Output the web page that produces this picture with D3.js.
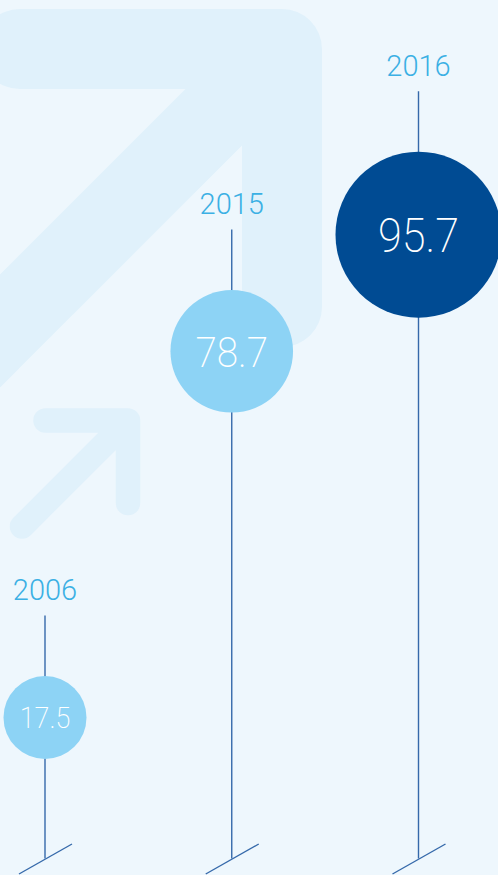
<!DOCTYPE html>
<html>
<head>
<meta charset="utf-8">
<script src="https://cdn.jsdelivr.net/npm/d3@7/dist/d3.min.js"></script>
<style>
  html, body { margin: 0; padding: 0; background: #eef7fd; }
  svg { display: block; }
</style>
</head>
<body>
<script>
// ---- data ----
const years = ["2006", "2015", "2016"];
const values = [17.5, 78.7, 95.7];
const valueLabels = ["17.5", "78.7", "95.7"];
const highlight = [false, false, true];

const W = 498, H = 875;
const svg = d3.select("body").append("svg").attr("width", W).attr("height", H);

svg.append("rect").attr("width", W).attr("height", H).attr("fill", "#eef7fd");

// decorative background arrows
const deco = svg.append("g").attr("fill", "none").attr("stroke", "#e0f1fb")
  .attr("stroke-linecap", "round").attr("stroke-linejoin", "round");
deco.append("path").attr("stroke-width", 80)
  .attr("d", "M20,49 L282,49 L282,307 M282,49 L-200,531");
deco.append("path").attr("stroke-width", 24.5)
  .attr("d", "M45.5,420.5 L128,420.5 L128,503 M128,420.5 L22,526.5");

// ---- scales ----
const x = d3.scalePoint().domain(years).range([45, 418.5]);
const r = d3.scaleLinear().domain(values).range([41.5, 61.3, 83]);
const cy = d3.scaleLinear().domain(values).range([717.5, 351.3, 234.7]);
const fs = d3.scaleLinear().domain(values).range([30, 43, 48]);

const data = years.map((y, i) => ({ year: y, v: values[i], label: valueLabels[i], hi: highlight[i] }));
const baseY = 858.5;

const g = svg.selectAll("g.item").data(data).enter().append("g").attr("class", "item");

// vertical stem
g.append("line")
  .attr("x1", d => x(d.year)).attr("x2", d => x(d.year))
  .attr("y1", d => cy(d.v) - r(d.v) - 60.5)
  .attr("y2", baseY)
  .attr("stroke", "#3569aa").attr("stroke-width", 1.4);

// slanted foot
g.append("line")
  .attr("x1", d => x(d.year) - 26).attr("y1", baseY + 15.5)
  .attr("x2", d => x(d.year) + 27).attr("y2", baseY - 14.5)
  .attr("stroke", "#3569aa").attr("stroke-width", 1.4);

// circle
g.append("circle")
  .attr("cx", d => x(d.year)).attr("cy", d => cy(d.v)).attr("r", d => r(d.v))
  .attr("fill", d => d.hi ? "#004b93" : "#8dd3f5");

// value text
g.append("text")
  .attr("x", d => x(d.year))
  .attr("y", d => cy(d.v) + 0.355 * fs(d.v))
  .attr("text-anchor", "middle")
  .attr("font-family", "Roboto, 'DejaVu Sans', sans-serif")
  .attr("font-weight", 200)
  .attr("font-size", d => fs(d.v))
  .attr("fill", "#ffffff")
  .text(d => d.label)
  .each(function () {
    const w = this.getComputedTextLength();
    d3.select(this).attr("textLength", w * 0.9).attr("lengthAdjust", "spacingAndGlyphs");
  });

// year label
g.append("text")
  .attr("x", d => x(d.year))
  .attr("y", d => cy(d.v) - r(d.v) - 75.7)
  .attr("text-anchor", "middle")
  .attr("font-family", "Roboto, 'DejaVu Sans', sans-serif")
  .attr("font-weight", 300)
  .attr("font-size", 29)
  .attr("fill", "#3bb0e4")
  .text(d => d.year);
</script>
</body>
</html>
